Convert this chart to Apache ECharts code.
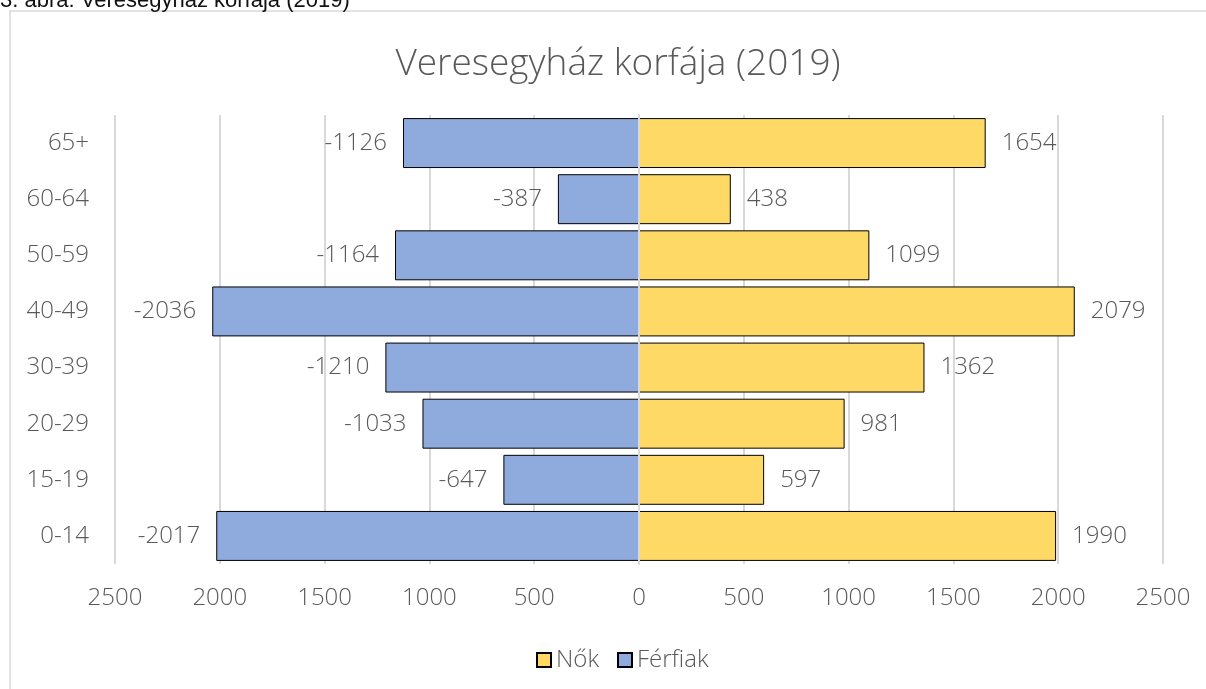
<!DOCTYPE html>
<html>
<head>
<meta charset="utf-8">
<script src="https://cdn.jsdelivr.net/npm/echarts@6/dist/echarts.min.js"></script>
<style>
  html, body { margin: 0; padding: 0; background: #fff; }
  #chart { width: 1206px; height: 689px; }
</style>
</head>
<body>
<div id="chart"></div>
<script>
// korcsoportok (alulról felfelé)
var ageGroups = ['0-14', '15-19', '20-29', '30-39', '40-49', '50-59', '60-64', '65+']
var ferfiak = [-2017, -647, -1033, -1210, -2036, -1164, -387, -1126]
var nok = [1990, 597, 981, 1362, 2079, 1099, 438, 1654]
var xTicks = { min: -2500, max: 2500, step: 500 }

var font = '"Open Sans", "Noto Sans", sans-serif'
var grey = '#595959'

var chart = echarts.init(document.getElementById('chart'))
var option = {
    backgroundColor: '#fff',
    textStyle: { fontFamily: font },
    title: {
        text: 'Veresegyház korfája (2019)',
        left: 613,
        top: 41,
        textAlign: 'center',
        textStyle: { fontFamily: font, fontSize: 37, fontWeight: 300, color: grey },
    },
    graphic: [
        {
            type: 'rect',
            shape: { x: 10, y: 11, width: 1300, height: 800 },
            style: { fill: 'none', stroke: '#d9d9d9', lineWidth: 1.5 },
            silent: true,
        },
        {
            type: 'text',
            left: 0,
            top: -10,
            style: {
                text: '3. ábra: Veresegyház korfája (2019)',
                font: '22px "Liberation Sans", "Open Sans", sans-serif',
                fill: '#111',
            },
        },
    ],
    legend: {
        data: ['Nők', 'Férfiak'],
        icon: 'rect',
        left: 531,
        top: 643,
        itemWidth: 14,
        itemHeight: 14,
        itemGap: 18,
        textStyle: { fontFamily: font, fontSize: 24, fontWeight: 300, color: grey },
    },
    grid: {
        left: 115,
        right: 43,
        top: 115,
        bottom: 125,
        containLabel: false,
    },
    xAxis: {
        type: 'value',
        min: xTicks.min,
        max: xTicks.max,
        interval: xTicks.step,
        axisLine: { show: false },
        axisTick: { show: false },
        splitLine: { show: true, lineStyle: { color: '#d9d9d9', width: 2 } },
        axisLabel: {
            margin: 22,
            fontSize: 24,
            fontWeight: 300,
            color: grey,
            formatter: function (v) { return Math.abs(v) },
        },
    },
    yAxis: {
        type: 'category',
        data: ageGroups,
        z: 10,
        axisLine: { show: true, lineStyle: { color: '#d9d9d9', width: 2 } },
        axisTick: { show: false },
        axisLabel: { margin: 26, fontSize: 24, fontWeight: 300, color: grey },
    },
    series: [
        {
            name: 'Nők',
            type: 'bar',
            data: nok,
            barGap: '-100%',
            barCategoryGap: '11%',
            itemStyle: { color: '#FFD966', borderColor: '#000', borderWidth: 1 },
            label: {
                show: true,
                position: 'right',
                distance: 16,
                fontSize: 24,
                fontWeight: 300,
                color: grey,
            },
        },
        {
            name: 'Férfiak',
            type: 'bar',
            data: ferfiak,
            barGap: '-100%',
            barCategoryGap: '11%',
            itemStyle: { color: '#8FAADC', borderColor: '#000', borderWidth: 1 },
            label: {
                show: true,
                position: 'left',
                distance: 16,
                fontSize: 24,
                fontWeight: 300,
                color: grey,
            },
        },
    ],
}
option && chart.setOption(option)
</script>
</body>
</html>
